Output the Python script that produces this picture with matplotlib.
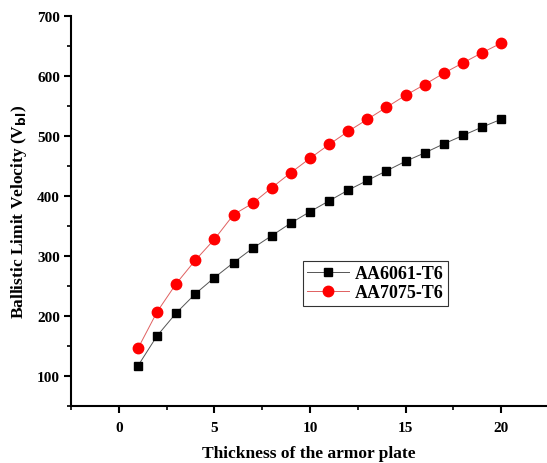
import matplotlib
matplotlib.use('Agg')
import matplotlib.pyplot as plt
from matplotlib.ticker import MultipleLocator

thickness = list(range(1, 21))
aa6061 = [117, 167, 205, 237, 264, 289, 313, 334, 355, 374,
          392, 410, 426, 442, 458, 472, 487, 501, 515, 528]
aa7075 = [146, 207, 254, 293, 328, 369, 388, 414, 439, 463,
          486, 508, 528, 548, 568, 586, 605, 622, 639, 655]

plt.rcParams['font.family'] = ['Liberation Serif', 'DejaVu Serif']
plt.rcParams['font.weight'] = 'bold'

fig = plt.figure(figsize=(5.47, 4.64), dpi=100)
ax = fig.add_axes([0.13, 0.123, 0.87, 0.84])

ax.plot(thickness, aa6061, color='#555555', lw=0.7, marker='s', ms=6,
        mfc='black', mec='black', label='AA6061-T6')
ax.plot(thickness, aa7075, color='#e06060', lw=0.7, marker='o', ms=7.5,
        mfc='red', mec='red', label='AA7075-T6')

ax.set_xlim(-2.5, 22.4)
ax.set_ylim(50, 700)
ax.xaxis.set_major_locator(MultipleLocator(5))
ax.xaxis.set_minor_locator(MultipleLocator(2.5))
ax.yaxis.set_major_locator(MultipleLocator(100))
ax.yaxis.set_minor_locator(MultipleLocator(50))
ax.spines['top'].set_visible(False)
ax.spines['right'].set_visible(False)
ax.spines['left'].set_linewidth(1.5)
ax.spines['bottom'].set_linewidth(1.5)
ax.tick_params(which='major', direction='out', length=5, width=1.5, labelsize=11)
ax.tick_params(axis='x', which='major', pad=6)
ax.tick_params(axis='y', which='major', pad=3)
ax.tick_params(which='minor', direction='out', length=3, width=1.2)
for lab in ax.get_xticklabels() + ax.get_yticklabels():
    lab.set_fontweight('bold')

ax.set_xlabel('Thickness of the armor plate', fontsize=12.5, fontweight='bold', labelpad=8)
ax.set_ylabel('Ballistic Limit Velocity (V$_{\\mathbf{bl}}$)', fontsize=12.5,
              fontweight='bold', labelpad=6)

leg = ax.legend(loc='upper left', bbox_to_anchor=(0.487, 0.372), fontsize=13,
                frameon=True, fancybox=False, edgecolor='black', handlelength=2.3,
                handletextpad=0.35, borderpad=0.25, labelspacing=0.1, borderaxespad=0)
leg.get_frame().set_linewidth(0.8)

fig.savefig('out.png', dpi=100)
